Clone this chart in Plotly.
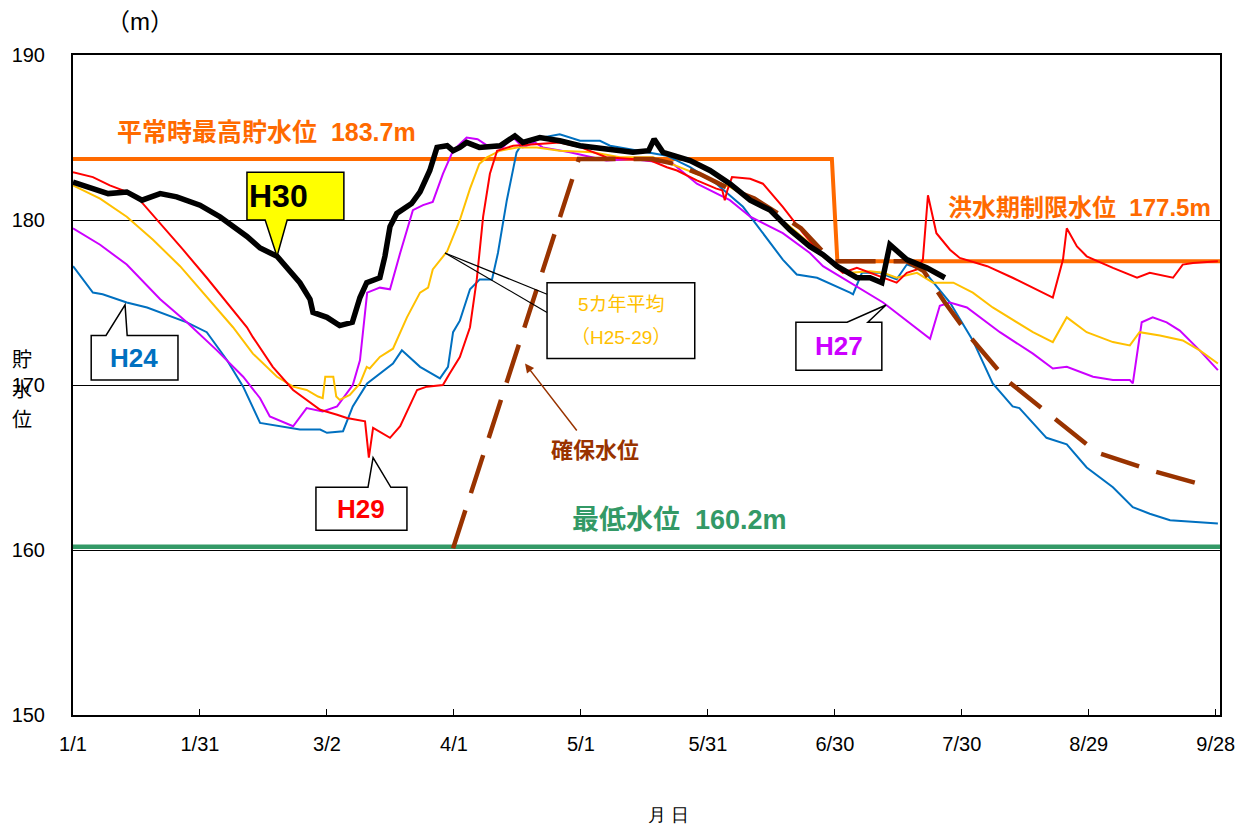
import plotly.graph_objects as go

# x = days since 1/1 (non-leap year), y = reservoir level in metres
tick_days = [0, 30, 60, 90, 120, 150, 180, 210, 240, 270]
tick_labels = ["1/1", "1/31", "3/2", "4/1", "5/1", "5/31", "6/30", "7/30", "8/29", "9/28"]

h30_days = [0, 4, 8.3, 12.7, 16.3, 20.6, 24.5, 30, 34.7, 41.1, 44.2, 48.2, 53.6, 56, 56.7, 60, 63, 66,
            67.8, 69.4, 72.5, 73.7, 74.9, 76.5, 80, 82, 84.3, 86, 88.4, 89.8, 91.4, 93, 96, 100.9, 104.4,
            106.3, 110.3, 115, 119.8, 126, 132.3, 136, 137.3, 139.4, 145.8, 150.5, 155.2, 160, 164.7,
            169.4, 174.1, 177.2, 180.5, 185.2, 188.3, 191.1, 193, 197, 201.7, 206]
h30_level = [182.3, 182.0, 181.6, 181.7, 181.2, 181.6, 181.4, 180.9, 180.2, 179.0, 178.3, 177.8, 176.2,
             175.2, 174.4, 174.1, 173.6, 173.8, 175.3, 176.2, 176.5, 177.8, 179.6, 180.4, 181.0, 181.7,
             183.0, 184.4, 184.5, 184.2, 184.4, 184.7, 184.4, 184.5, 185.1, 184.7, 185.0, 184.8, 184.5,
             184.3, 184.1, 184.2, 184.9, 184.1, 183.6, 183.0, 182.2, 181.2, 180.6, 179.4, 178.4, 177.9,
             177.2, 176.5, 176.5, 176.2, 178.5, 177.6, 177.1, 176.5]

h24_days = [0, 4.7, 7, 12.7, 17.5, 26.9, 31.6, 36.4, 40.2, 44.2, 53.6, 58.4, 60, 63.8, 66.1, 69.5, 75.6,
            77.7, 82, 86.7, 88.6, 89.8, 91.4, 93.8, 96.1, 99, 100.4, 102.5, 104.8, 106.3, 111, 115, 119.8,
            124.5, 126.9, 129.2, 136.3, 140.3, 145.8, 152, 158.3, 163, 167.7, 171, 175.8, 183.6, 184.3,
            186.4, 190.6, 194.6, 197, 200.8, 207.2, 212.6, 217.3, 222, 223.6, 230, 234.8, 239.5, 245.7,
            250.4, 254.4, 259.2, 264.6, 270.5]
h24_level = [177.2, 175.6, 175.5, 175.0, 174.7, 173.8, 173.2, 171.5, 169.9, 167.7, 167.3, 167.3, 167.1,
             167.2, 168.7, 170.1, 171.3, 172.1, 171.1, 170.4, 171.1, 173.2, 173.9, 175.8, 176.4, 176.4,
             178.0, 181.2, 184.1, 184.7, 185.0, 185.2, 184.8, 184.8, 184.5, 184.4, 184.1, 183.9, 183.2,
             182.2, 180.8, 179.2, 177.6, 176.7, 176.5, 175.6, 175.5, 176.8, 176.8, 176.4, 177.3, 177.0,
             175.0, 172.7, 170.1, 168.7, 168.6, 166.8, 166.4, 165.0, 163.8, 162.6, 162.2, 161.8, 161.7,
             161.6]

h27_days = [0, 6.4, 12.7, 20.6, 26.9, 34, 40.2, 44.2, 46.5, 52, 55.2, 59, 62.4, 66.1, 67.8, 69.5, 72.5,
            74.9, 77.3, 80.3, 82.7, 85, 87.4, 89.8, 93, 95.6, 98.5, 101.5, 104, 106.3, 109.1, 111, 117.4,
            126, 132, 138.7, 141.3, 147.4, 155.2, 160, 167.7, 174.1, 177.2, 191.4, 202.5, 204.8, 207.2,
            211.2, 219, 226.8, 231.5, 234.8, 241, 245.7, 249.7, 250.4, 252.5, 255.1, 258.4, 261.5, 266.2,
            270.5]
h27_level = [179.5, 178.5, 177.3, 175.2, 173.8, 172.1, 170.5, 169.2, 168.1, 167.5, 168.6, 168.4, 168.7,
             170.0, 171.5, 175.6, 175.9, 175.8, 178.0, 180.6, 180.9, 181.1, 182.8, 184.2, 185.0, 184.9,
             184.4, 184.4, 185.0, 184.4, 184.7, 184.4, 184.1, 183.6, 183.7, 183.5, 183.5, 182.2, 181.2,
             180.2, 179.2, 178.0, 177.2, 175.0, 172.8, 174.8, 175.0, 174.7, 173.2, 171.9, 171.0, 171.1,
             170.5, 170.3, 170.3, 170.1, 173.8, 174.1, 173.8, 173.3, 172.1, 170.9]

h29_days = [0, 4.7, 8.7, 11.8, 15.8, 20.6, 26, 31.6, 36.4, 41.1, 42.5, 47.2, 52, 55.2, 58.4, 62.4, 64.7,
            69, 69.9, 70.9, 74.9, 77.3, 81.3, 83.6, 87.4, 89, 91.4, 93.8, 95.4, 96.9, 98.5, 100.2, 104,
            110, 115, 120, 126, 132, 136.5, 140.3, 142.7, 147.4, 152, 153.4, 154, 154.6, 155.7, 160, 163,
            167.7, 172.5, 177.2, 181.9, 185.2, 188.3, 191.4, 194.6, 197, 199.4, 200.8, 202, 204, 207.2,
            209.5, 216, 222, 226.8, 231.5, 233.9, 234.8, 237.2, 239.5, 245.7, 251.4, 254.4, 259.9, 262.2,
            264.6, 270.5]
h29_level = [182.9, 182.6, 182.1, 181.8, 181.2, 179.8, 178.2, 176.5, 175.0, 173.5, 172.9, 171.1, 169.7,
             169.1, 168.5, 168.2, 168.0, 167.8, 165.6, 167.4, 166.8, 167.5, 169.7, 169.9, 170.0, 170.7,
             171.7, 173.5, 176.4, 180.2, 182.8, 184.2, 184.5, 184.6, 184.7, 184.4, 183.8, 183.7, 183.6,
             183.2, 183.0, 182.4, 181.9, 181.8, 181.2, 181.8, 182.6, 182.5, 182.2, 180.8, 179.2, 177.8,
             176.8, 177.1, 176.8, 176.5, 176.2, 176.8, 177.0, 177.6, 181.5, 179.2, 178.2, 177.7, 177.2,
             176.5, 175.9, 175.3, 177.6, 179.5, 178.4, 177.8, 177.1, 176.5, 176.8, 176.5, 177.3, 177.4,
             177.5]

avg_days = [0, 6.4, 12.7, 18.9, 25.3, 31.6, 37.8, 42.5, 44.2, 48.2, 52, 55.2, 57.9, 59, 59.6, 61.5, 62.2,
            63, 65.4, 67.8, 69.4, 70.1, 72.5, 75.6, 78.9, 82, 83.9, 85, 88.4, 91.4, 93.8, 96, 97.8, 100.9,
            104.9, 109.6, 115, 122.8, 129.2, 137, 139.4, 147.4, 155.2, 163, 169.4, 175.8, 180.5, 183.6,
            188.3, 191.4, 194.6, 199.4, 203.2, 208, 212.6, 217.3, 223, 226.8, 231.5, 234.8, 239.5, 245.7,
            249.7, 252, 256.8, 262.2, 266.2, 270.5]
avg_level = [182.1, 181.3, 180.2, 178.8, 177.2, 175.3, 173.5, 171.9, 171.5, 170.5, 169.9, 169.7, 169.3,
             169.2, 170.5, 170.5, 169.3, 169.1, 169.4, 170.1, 171.1, 171.0, 171.7, 172.2, 174.1, 175.6,
             175.9, 177.0, 178.1, 180.0, 181.9, 183.4, 183.8, 184.2, 184.4, 184.4, 184.2, 184.1, 183.8,
             183.8, 183.6, 182.8, 182.0, 180.8, 179.6, 178.2, 177.2, 176.8, 176.9, 176.8, 176.5, 176.8,
             176.2, 176.2, 175.6, 174.7, 173.8, 173.2, 172.6, 174.1, 173.2, 172.6, 172.4, 173.2, 173.0,
             172.7, 172.1, 171.3]

# 確保水位 (required storage curve)
secure_days = [89.8, 119.5, 137, 142, 148, 155, 161, 168, 172, 177.5, 180, 197, 201, 206, 212, 220.6,
               231.5, 242, 255, 269]
secure_level = [160.1, 183.7, 183.7, 183.4, 182.8, 181.9, 181.3, 180.2, 179.5, 178.0, 177.5, 177.5,
                176.9, 175.0, 172.9, 170.3, 168.1, 165.9, 164.8, 163.8]

# 平常時最高貯水位 / 洪水期制限水位
limit_days = [0, 179.3, 180.6, 272]
limit_level = [183.7, 183.7, 177.5, 177.5]

# 最低水位
min_days = [0, 272]
min_level = [160.2, 160.2]

for d, v in [(h30_days, h30_level), (h24_days, h24_level), (h27_days, h27_level),
             (h29_days, h29_level), (avg_days, avg_level), (secure_days, secure_level)]:
    assert len(d) == len(v), (len(d), len(v))

ORANGE = "#FF6A00"
GREEN = "#339966"
BROWN = "#993300"
BLUE = "#0070C0"
PURPLE = "#CC00FF"
RED = "#FF0000"
YELLOW = "#FFC000"
JP = "Arial, 'Noto Sans CJK JP', sans-serif"
NARROW = "'Liberation Sans Narrow', 'Arial Narrow', Arial, sans-serif"

fig = go.Figure()


def add_line(x, y, color, width, dash="solid"):
    fig.add_trace(go.Scatter(x=x, y=y, mode="lines", line=dict(color=color, width=width, dash=dash),
                             hoverinfo="skip", showlegend=False))


add_line(limit_days, limit_level, ORANGE, 4)
add_line(min_days, min_level, GREEN, 4.5)
add_line(h24_days, h24_level, BLUE, 2)
add_line(h27_days, h27_level, PURPLE, 2)
add_line(avg_days, avg_level, YELLOW, 2)
add_line(h29_days, h29_level, RED, 2)
add_line(secure_days, secure_level, BROWN, 4.5, dash="40px,18px")
add_line(h30_days, h30_level, "black", 5.5)


def callout(box, base, tip, fill):
    """Excel-style rectangular callout: box=(x0,x1,y0,y1), pointer base on one edge."""
    x0, x1, y0, y1 = box
    (bx0, by), (bx1, _) = base
    tx, ty = tip
    if by == y1:  # pointer leaves from the bottom edge
        pts = [(x0, y0), (x1, y0), (x1, y1), (bx1, y1), (tx, ty), (bx0, y1), (x0, y1)]
    else:  # pointer leaves from the top edge
        pts = [(x0, y0), (bx0, y0), (tx, ty), (bx1, y0), (x1, y0), (x1, y1), (x0, y1)]
    path = "M " + " L ".join(f"{px},{py}" for px, py in pts) + " Z"
    fig.add_shape(type="path", path=path, xref="x", yref="y", fillcolor=fill,
                  line=dict(color="black", width=1.5), layer="above")


# H30 (yellow box, pointer down to the black line)
callout((41.1, 64.0, 182.9, 180.0), ((45.4, 180.0), (50.6, 180.0)), (48.2, 177.8), "#FFFF00")
# H24 (pointer up)
callout((4.3, 24.8, 173.0, 170.3), ((7.8, 173.0), (12.8, 173.0)), (12.3, 174.85), "white")
# H29
callout((57.4, 78.9, 163.8, 161.2), ((69.7, 163.8), (75.1, 163.8)), (70.9, 165.6), "white")
# H27
callout((170.8, 191.1, 173.8, 170.9), ((182.9, 173.8), (187.8, 173.8)), (192.1, 174.85), "white")

# 5カ年平均 box with two leader lines
fig.add_shape(type="rect", x0=112.0, x1=146.9, y0=171.6, y1=176.2, xref="x", yref="y",
              fillcolor="white", line=dict(color="black", width=1.5), layer="above")
for yy in (175.5, 174.4):
    fig.add_shape(type="line", x0=87.9, y0=178.0, x1=112.0, y1=yy, xref="x", yref="y",
                  line=dict(color="black", width=1.2), layer="above")

annos = [
    dict(x=48.6, y=181.45, text="<b>H30</b>", font=dict(size=32, color="black", family=JP)),
    dict(x=14.5, y=171.65, text="<b>H24</b>", font=dict(size=26, color=BLUE, family=JP)),
    dict(x=68.1, y=162.5, text="<b>H29</b>", font=dict(size=26, color=RED, family=JP)),
    dict(x=181.0, y=172.35, text="<b>H27</b>", font=dict(size=26, color=PURPLE, family=JP)),
    dict(x=129.5, y=174.9, text="5カ年平均", font=dict(size=19, color=YELLOW, family=JP)),
    dict(x=129.5, y=172.85, text="（H25-29）", font=dict(size=19, color=YELLOW, family=JP)),
    dict(x=45.6, y=185.35, text="<b>平常時最高貯水位\u00a0\u00a0183.7m</b>",
         font=dict(size=25, color=ORANGE, family=JP)),
    dict(x=237.8, y=180.75, text="<b>洪水期制限水位\u00a0\u00a0177.5m</b>",
         font=dict(size=24, color=ORANGE, family=JP)),
    dict(x=143.4, y=161.8, text="<b>最低水位\u00a0\u00a0160.2m</b>",
         font=dict(size=27, color=GREEN, family=JP)),
    dict(x=123.3, y=166.05, text="<b>確保水位</b>", font=dict(size=22, color=BROWN, family=JP)),
]
for a in annos:
    fig.add_annotation(xref="x", yref="y", showarrow=False, **a)

# arrow pointing at the 確保水位 curve
fig.add_annotation(x=106.8, y=171.3, ax=119.3, ay=167.15, xref="x", yref="y", axref="x", ayref="y",
                   text="", showarrow=True, arrowhead=2, arrowsize=1.2, arrowwidth=1.5,
                   arrowcolor=BROWN)

# axis captions: 貯水位 written top-to-bottom, one character per line
for ch, py in zip("貯水位", (0.538, 0.493, 0.447)):
    fig.add_annotation(xref="paper", yref="paper", x=-0.0445, y=py, text=ch, showarrow=False,
                       xanchor="center", yanchor="middle", font=dict(size=20, color="black", family=JP))
fig.add_annotation(xref="paper", yref="paper", x=0.058, y=1.05, text="（m）", showarrow=False,
                   xanchor="center", yanchor="middle", font=dict(size=24, color="black", family=JP))
fig.add_annotation(xref="paper", yref="paper", x=0.519, y=-0.152, text="月 日", showarrow=False,
                   xanchor="center", yanchor="middle", font=dict(size=18, color="black", family=NARROW))

# the page body adds an 8px margin, so the figure is shrunk to fit inside it
fig.update_layout(
    width=1231, height=816,
    margin=dict(l=65, r=19, t=47, b=109, autoexpand=False),
    paper_bgcolor="white", plot_bgcolor="white",
    showlegend=False,
    xaxis=dict(range=[0, 271], tickvals=tick_days, ticktext=tick_labels, ticks="inside", ticklen=6,
               tickcolor="black", showgrid=False, zeroline=False, showline=True, mirror=True,
               linecolor="black", linewidth=2, ticklabelstandoff=10, automargin=False,
               tickfont=dict(size=20, color="black", family=NARROW)),
    yaxis=dict(range=[150, 190], dtick=10, showgrid=True, gridcolor="black", gridwidth=1,
               zeroline=False, showline=True, mirror=True, linecolor="black", linewidth=2,
               ticks="", ticklabelstandoff=22, automargin=False,
               tickfont=dict(size=20, color="black", family="Arial, sans-serif")),
)

fig.write_html("out.html")
